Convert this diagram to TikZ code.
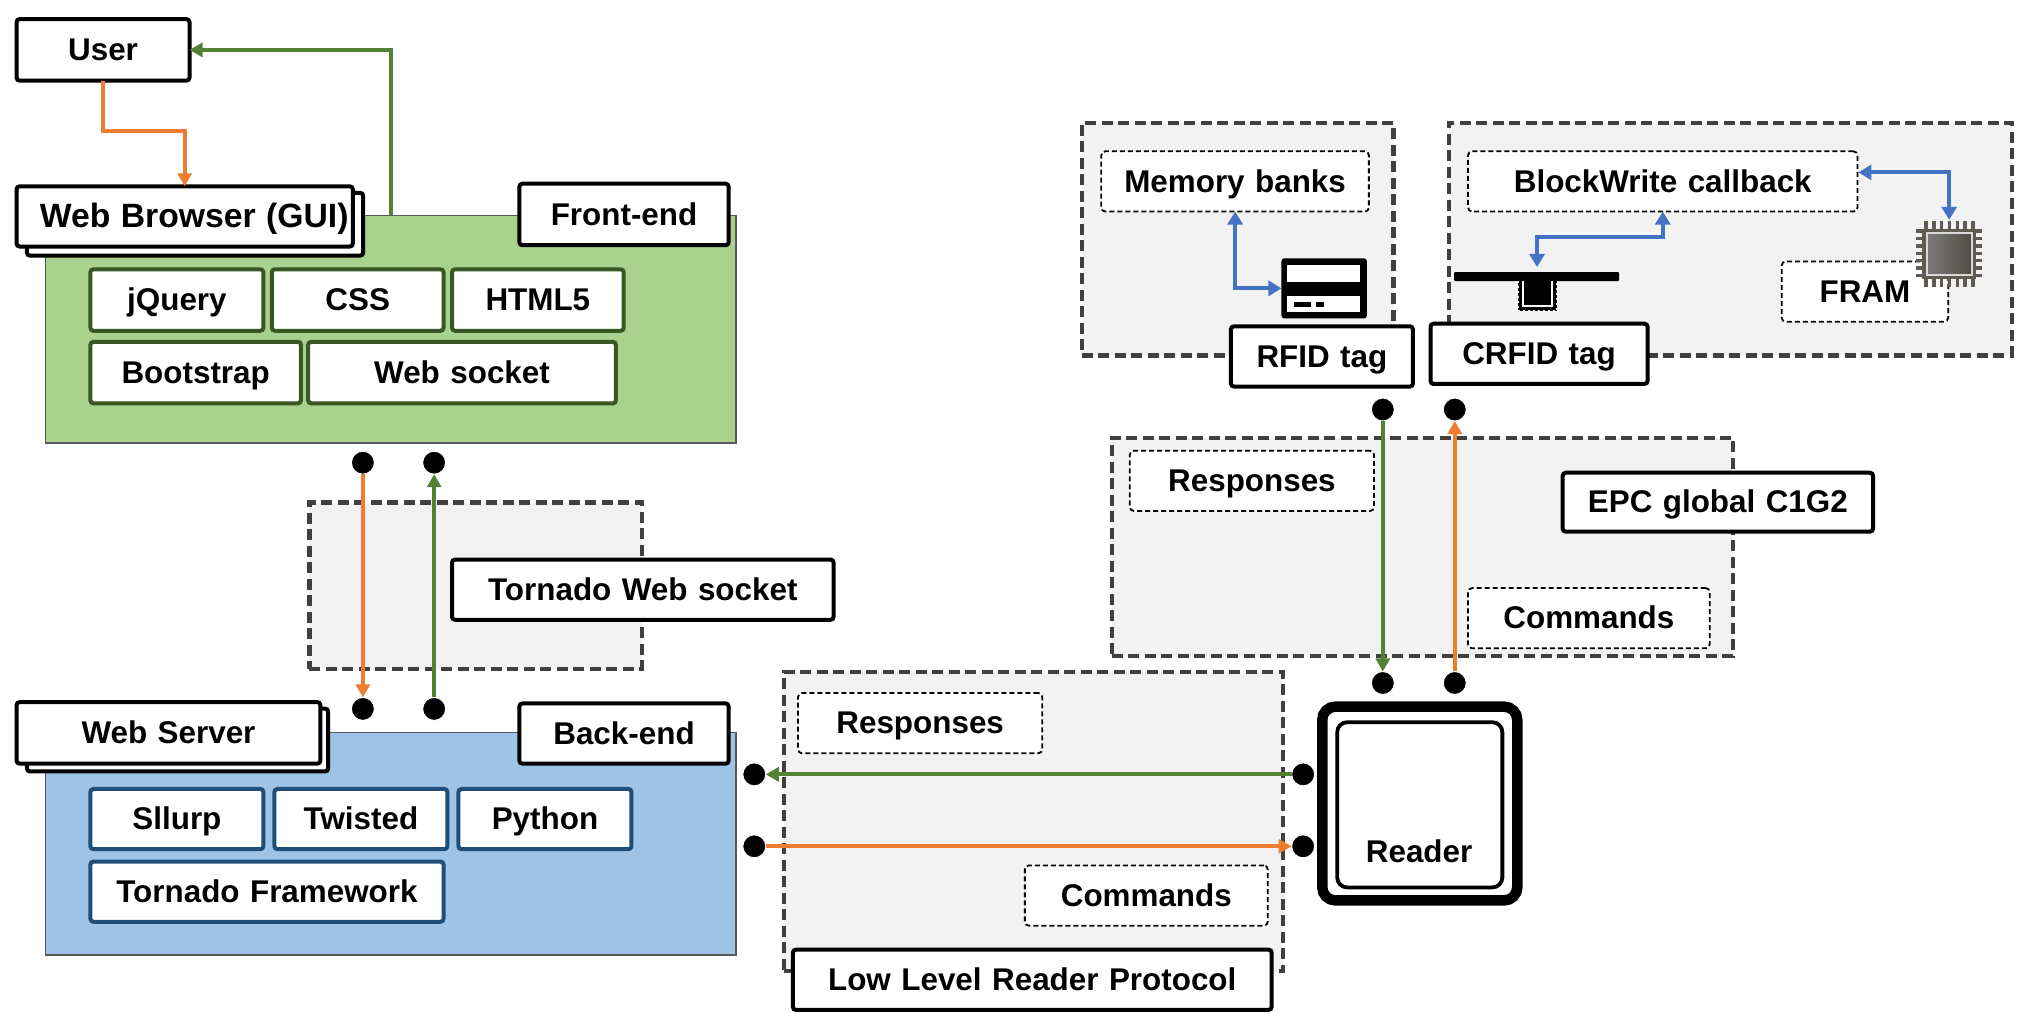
\documentclass[tikz,border=0pt]{standalone}
\usepackage{fontspec}
\setmainfont{Liberation Sans}
\usetikzlibrary{arrows.meta,calc}
\definecolor{cgreen}{HTML}{548235}
\definecolor{corange}{HTML}{ED7D31}
\definecolor{cblue}{HTML}{4472C4}
\definecolor{dgreen}{HTML}{385723}
\definecolor{dblue}{HTML}{1F4E79}
\definecolor{panelg}{HTML}{A9D18E}
\definecolor{panelb}{HTML}{9DC3E6}
\definecolor{zone}{HTML}{F2F2F2}
\definecolor{zoneline}{HTML}{404040}
\definecolor{chipc}{HTML}{5F5B50}
\tikzset{
  lbl/.style={font=\bfseries\fontsize{31.4}{34}\selectfont,align=center,inner sep=0pt,outer sep=0pt,text=black,text height=21.5pt,text depth=0pt},
  bbox/.style={lbl,draw=black,fill=white,line width=4pt,rounded corners=3pt},
  gbox/.style={lbl,draw=dgreen,fill=white,line width=4pt,rounded corners=3pt},
  nbox/.style={lbl,draw=dblue,fill=white,line width=4pt,rounded corners=3pt},
  dbox/.style={lbl,draw=black,fill=white,line width=1.8pt,dash pattern=on 5pt off 3pt,rounded corners=4pt},
  zonebox/.style={lbl,draw=zoneline,fill=zone,line width=4.2pt,dash pattern=on 11pt off 5.5pt},
  gpanel/.style={lbl,draw=black!65,fill=panelg,line width=1.5pt},
  bpanel/.style={lbl,draw=black!65,fill=panelb,line width=1.5pt},
  dot/.style={circle,fill=black,draw=white,line width=1pt,inner sep=0pt,outer sep=0pt,minimum size=23pt},
  garr/.style={line width=4pt,draw=cgreen,-{Triangle[length=13pt,width=14pt,fill=cgreen]}},
  oarr/.style={line width=4pt,draw=corange,-{Triangle[length=13pt,width=14pt,fill=corange]}},
  barr/.style={line width=4pt,draw=cblue,{Triangle[length=13pt,width=15pt,fill=cblue]}-{Triangle[length=13pt,width=15pt,fill=cblue]}},
}
% \bxn{name}{style}{x1}{y1}{x2}{y2}{text}  (coordinates in 1568-wide units, outer edges)
\newcommand{\bxn}[7]{%
  \pgfmathsetlengthmacro{\bxnw}{(#5-#3)*1.296pt-2pt}%
  \pgfmathsetlengthmacro{\bxnh}{(#6-#4)*1.296pt-2pt}%
  \node[#2,minimum width=\bxnw,minimum height=\bxnh,text width=\bxnw] (#1) at ({(#3+#5)/2},{(#4+#6)/2}) {#7};}
\begin{document}
\begin{tikzpicture}[x=1.296pt,y=-1.296pt]
\useasboundingbox (0,0) rectangle (1567.9,795.6);
\fill[white] (0,0) rectangle (1567.9,795.6);

% panels and zones
\bxn{fpanel}{gpanel}{34.5}{165.5}{568.5}{342.5}{}
\bxn{bpanel}{bpanel}{34.5}{564.5}{568.5}{737.5}{}
\bxn{tzone}{zonebox}{238}{387}{496}{517}{}
\bxn{llzone}{zonebox}{604}{518}{991}{750}{}
\bxn{epczone}{zonebox}{857}{337}{1338}{507}{}
\bxn{rzone}{zonebox}{834}{94}{1076}{275}{}
\bxn{czone}{zonebox}{1117}{94}{1553}{275}{}

% front-end
\bxn{user}{bbox}{12}{14}{147}{63}{User}
\bxn{browserb}{bbox}{20}{148}{281}{198}{}
\bxn{browser}{bbox}{12}{143}{273}{191}{\hspace*{14pt}\fontsize{33.7}{36}\selectfont Web Browser (GUI)\hspace*{-5pt}}
\bxn{front}{bbox}{400}{141}{563}{190}{Front-end}
\bxn{jq}{gbox}{69}{207}{204}{256}{jQuery}
\bxn{css}{gbox}{209}{207}{343}{256}{CSS}
\bxn{html}{gbox}{348}{207}{482}{256}{HTML5}
\bxn{boot}{gbox}{69}{263}{233}{312}{Bootstrap}
\bxn{wsock}{gbox}{237}{263}{476}{312}{Web socket}

% middle
\bxn{tws}{bbox}{348}{431}{644}{479}{Tornado Web socket}

% back-end
\bxn{serverb}{bbox}{20}{546}{254}{596}{}
\bxn{server}{bbox}{12}{541}{248}{590}{Web Server}
\bxn{back}{bbox}{400}{542}{563}{590}{Back-end}
\bxn{sll}{nbox}{69}{608}{204}{656}{Sllurp}
\bxn{twi}{nbox}{211}{608}{346}{656}{Twisted}
\bxn{pyt}{nbox}{353}{608}{488}{656}{Python}
\bxn{tfw}{nbox}{69}{664}{343}{712}{Tornado Framework}

% LLRP
\bxn{llresp}{dbox}{615}{534}{805}{582}{Responses}
\bxn{llcmd}{dbox}{790}{667}{979}{715}{Commands}
\bxn{llrp}{bbox}{611}{732}{982}{780}{Low Level Reader Protocol}

% EPC
\bxn{eresp}{dbox}{871}{347}{1061}{395}{Responses}
\bxn{ecmd}{dbox}{1132}{453}{1320}{501}{Commands}
\bxn{epc}{bbox}{1205}{364}{1446}{411}{EPC global C1G2}

% tags
\bxn{mem}{dbox}{849}{116}{1057}{164}{Memory banks}
\bxn{bw}{dbox}{1132}{116}{1434}{164}{BlockWrite callback}
\bxn{fram}{dbox}{1374}{201}{1504}{249}{FRAM}
\bxn{card}{draw=none,fill=black,rounded corners=3pt,inner sep=0pt,outer sep=0pt}{988}{198.5}{1055.5}{246.5}{}
\bxn{rfid}{bbox}{949}{251}{1091}{299}{RFID tag}
\bxn{crfid}{bbox}{1103}{249}{1272}{297}{CRFID tag}

% card and antenna icons
\begin{scope}[x=1pt,y=-1pt]
  \fill[white] (1287,265) rectangle (1360,282);
  \fill[white] (1287,296) rectangle (1360,312);
  \fill[black] (1294,302) rectangle (1311,306.5);
  \fill[black] (1316,302) rectangle (1324,306.5);
  \fill[black,rounded corners=1pt] (1454,272) rectangle (1619,281);
  \fill[black] (1518,281) rectangle (1557,311);
  \draw[white,line width=1.4pt] (1523,281) -- (1523,306) -- (1552,306) -- (1552,281);
  \draw[zone,line width=1.5pt,dash pattern=on 2pt off 3pt] (1518,281) -- (1518,311) -- (1557,311) -- (1557,281);
\end{scope}
\coordinate (ant) at (1186,206);

% chip icon
\begin{scope}[x=1pt,y=-1pt]
  \foreach \i in {0,...,6} {
    \draw[chipc,line width=3.4pt] ({1926+\i*7.8},221) -- ({1926+\i*7.8},287);
    \draw[chipc,line width=3.4pt] (1916,{231+\i*7.4}) -- (1982,{231+\i*7.4});
  }
  \fill[chipc] (1922,229) rectangle (1976,279);
  \shade[left color=black!52,right color=chipc!85!black] (1928,234) rectangle (1971,274);
  \draw[white!85!black,line width=1.6pt] (1927,233) rectangle (1972,275);
\end{scope}
\node[inner sep=0pt,outer sep=0pt,minimum width=1pt,minimum height=1pt] (chip) at (1504,170) {};
\coordinate (bwr) at (1434,133);

% reader
\bxn{reader}{draw=black,fill=white,line width=10.5pt,rounded corners=13pt,inner sep=0pt,outer sep=0pt}{1019.5}{544.5}{1171.5}{695.5}{}
\bxn{readerin}{draw=black,fill=white,line width=3.8pt,rounded corners=10pt,inner sep=0pt,outer sep=0pt}{1031}{556.5}{1160}{685.5}{}
\node[lbl] (readertxt) at (1095,657) {Reader};

% dots
\node[dot] (d1) at (280,357) {};
\node[dot] (d2) at (335,357) {};
\node[dot] (d3) at (280,547) {};
\node[dot] (d4) at (335,547) {};
\node[dot] (d5) at (582,597.5) {};
\node[dot] (d6) at (582,653) {};
\node[dot] (d7) at (1005.5,597.5) {};
\node[dot] (d8) at (1005.5,653) {};
\node[dot] (d9) at (1067,316) {};
\node[dot] (d10) at (1122.5,316) {};
\node[dot] (d11) at (1067,527) {};
\node[dot] (d12) at (1122.5,527) {};

% connectors
\coordinate (gs) at (302,166);
\draw[oarr] (user.south) -- ++(0,39) -| (browser.north);
\draw[garr] (gs) |- (user.east);
\draw[oarr] (d1) -- (d3);
\draw[garr] (d4) -- (d2);
\draw[garr] (d7) -- (d5);
\draw[oarr] (d6) -- (d8);
\draw[garr] (d9) -- (d11);
\draw[oarr] (d12) -- (d10);
\draw[barr] (mem.south) |- (card.west);
\draw[barr] (bw.south) -- ++(0,20) -| (ant);
\draw[barr] (bwr) -| (chip);
\end{tikzpicture}
\end{document}
